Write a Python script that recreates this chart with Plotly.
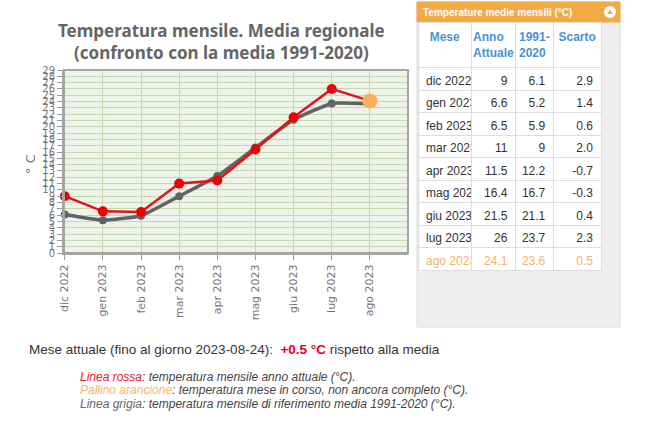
import plotly.graph_objects as go

W, H = 650, 429

months = ["dic 2022", "gen 2023", "feb 2023", "mar 2023", "apr 2023",
          "mag 2023", "giu 2023", "lug 2023", "ago 2023"]
actual = [9, 6.6, 6.5, 11, 11.5, 16.4, 21.5, 26, 24.1]
reference = [6.1, 5.2, 5.9, 9, 12.2, 16.7, 21.1, 23.7, 23.6]
scarto = [2.9, 1.4, 0.6, 2.0, -0.7, -0.3, 0.4, 2.3, 0.5]
table_months = ["dic 2022", "gen 2023", "feb 2023", "mar 2023", "apr 2023",
                "mag 2023", "giu 2023", "lug 2023", "ago 2023"]
y_ticks = list(range(0, 30))


def px(x):
    return x / W


def py(y):
    return 1 - y / H


fig = go.Figure()

# reference (grey)
fig.add_trace(go.Scatter(
    x=months, y=reference, mode="lines+markers",
    line=dict(color="#626262", width=3.5, shape="spline", smoothing=0.4),
    marker=dict(color="#626262", size=8),
    cliponaxis=False, hoverinfo="skip", showlegend=False))
# actual (red)
fig.add_trace(go.Scatter(
    x=months[:-1], y=actual[:-1], mode="lines+markers",
    line=dict(color="#e8101a", width=2.5),
    marker=dict(color="#f00000", size=10),
    cliponaxis=False, hoverinfo="skip", showlegend=False))
fig.add_trace(go.Scatter(
    x=months[-2:], y=actual[-2:], mode="lines",
    line=dict(color="#e8101a", width=2.5),
    cliponaxis=False, hoverinfo="skip", showlegend=False))
# current month (orange dot)
fig.add_trace(go.Scatter(
    x=months[-1:], y=actual[-1:], mode="markers",
    marker=dict(color="#f9b15c", size=15),
    cliponaxis=False, hoverinfo="skip", showlegend=False))

# table
txt = "#333333"
orange = "#f5b36a"
font_colors = [[txt] * 8 + [orange] for _ in range(4)]
fig.add_trace(go.Table(
    domain=dict(x=[px(418), px(602)], y=[py(275), py(22)]),
    columnwidth=[54, 44, 38, 48],
    header=dict(
        values=["<b>Mese</b>", "<b>Anno<br>Attuale</b>", "<b>1991-<br>2020</b>", "<b>Scarto</b>"],
        fill_color="white", line_color="#dddddd", align="center", height=35,
        font=dict(family="Liberation Sans, Arial", size=12, color="#4a93d3")),
    cells=dict(
        values=[[m.replace(" ", "\u00a0") for m in table_months],
                [f"{v:g}" for v in actual],
                [f"{v:g}" for v in reference],
                [f"{v:.1f}" for v in scarto]],
        fill_color="white", line_color="#dddddd",
        align=["left", "right", "right", "right"], height=22.5,
        font=dict(family="Liberation Sans, Arial", size=12, color=font_colors))))

shapes = [
    # grey panel
    dict(type="rect", xref="paper", yref="paper", x0=px(417), x1=px(620), y0=py(327), y1=py(2),
         fillcolor="#eeeeee", line=dict(color="#dddddd", width=1), layer="below"),
    # orange header
    dict(type="rect", xref="paper", yref="paper", x0=px(417), x1=px(620), y0=py(22), y1=py(2),
         fillcolor="#f3a944", line=dict(color="#f3a944", width=1), layer="below"),
    dict(type="circle", xref="paper", yref="paper", x0=px(604), x1=px(616), y0=py(18), y1=py(6),
         fillcolor="white", line=dict(color="white", width=0), layer="above"),
    dict(type="path", xref="paper", yref="paper",
         path=f"M {px(607)} {py(14)} L {px(610)} {py(9.5)} L {px(613)} {py(14)} Z",
         fillcolor="#f3a944", line=dict(width=0), layer="above"),
    # plot frame
    dict(type="rect", xref="paper", yref="paper", x0=px(64), x1=px(408), y0=py(253), y1=py(70),
         fillcolor="rgba(0,0,0,0)", line=dict(color="#a4a4a4", width=2), layer="above"),
]

annotations = [
    dict(text="Temperatura mensile. Media regionale", x=px(222), y=py(31), xref="paper", yref="paper",
         showarrow=False, xanchor="center", yanchor="middle",
         font=dict(family="Noto Sans", size=17, color="#666666", weight="bold")),
    dict(text="(confronto con la media 1991-2020)", x=px(222), y=py(52), xref="paper", yref="paper",
         showarrow=False, xanchor="center", yanchor="middle",
         font=dict(family="Noto Sans", size=17, color="#666666", weight="bold")),
    dict(text="° C", x=px(31), y=py(164), xref="paper", yref="paper", textangle=-90,
         showarrow=False, xanchor="center", yanchor="middle",
         font=dict(family="DejaVu Sans", size=13, color="#777777")),
    dict(text="<b>Temperature medie mensili (°C)</b>", x=px(421), y=py(12), xref="paper", yref="paper",
         showarrow=False, xanchor="left", yanchor="middle",
         font=dict(family="Liberation Sans", size=10, color="white")),
    dict(text="Mese attuale (fino al giorno 2023-08-24):&nbsp; <b><span style='color:#e3001b'>+0.5 °C</span></b> rispetto alla media",
         x=px(27), y=py(349), xref="paper", yref="paper", showarrow=False, xanchor="left", yanchor="middle",
         font=dict(family="Liberation Sans, Arial", size=13.5, color="#333333")),
    dict(text="<i><span style='color:#e3202a'>Linea rossa</span>: temperatura mensile anno attuale (°C).</i>",
         x=px(78), y=py(377), xref="paper", yref="paper", showarrow=False, xanchor="left", yanchor="middle",
         font=dict(family="Liberation Sans, Arial", size=12, color="#444444")),
    dict(text="<i><span style='color:#f6b46a'>Pallino arancione</span>: temperatura mese in corso, non ancora completo (°C).</i>",
         x=px(78), y=py(390), xref="paper", yref="paper", showarrow=False, xanchor="left", yanchor="middle",
         font=dict(family="Liberation Sans, Arial", size=12, color="#444444")),
    dict(text="<i><span style='color:#666666'>Linea grigia</span>: temperatura mensile di riferimento media 1991-2020 (°C).</i>",
         x=px(78), y=py(404), xref="paper", yref="paper", showarrow=False, xanchor="left", yanchor="middle",
         font=dict(family="Liberation Sans, Arial", size=12, color="#444444")),
]

fig.update_layout(
    width=W, height=H,
    margin=dict(l=0, r=0, t=0, b=0, pad=0),
    paper_bgcolor="white", plot_bgcolor="#eef4ea",
    showlegend=False,
    xaxis=dict(domain=[px(64), px(408)], type="category", range=[-0.02, 9],
               automargin=False,
               showgrid=True, gridcolor="#c4d9b2", gridwidth=1,
               ticks="outside", ticklen=5, tickcolor="#999999",
               tickangle=-90, tickfont=dict(family="DejaVu Sans", size=11, color="#777777"),
               showline=True, linecolor="#a4a4a4", linewidth=2, zeroline=False, fixedrange=True),
    yaxis=dict(domain=[py(253), py(70)], range=[0, 29], tickvals=y_ticks,
               automargin=False,
               showgrid=True, gridcolor="#c4d9b2", gridwidth=1,
               ticks="outside", ticklen=5, tickcolor="#999999",
               tickfont=dict(family="DejaVu Sans", size=10, color="#777777"),
               showline=True, linecolor="#a4a4a4", linewidth=2, zeroline=False, fixedrange=True),
    shapes=shapes, annotations=annotations,
)

fig.write_html("out.html", config={"displayModeBar": False},
               post_script="document.body.style.margin='0';document.body.style.padding='0';")
